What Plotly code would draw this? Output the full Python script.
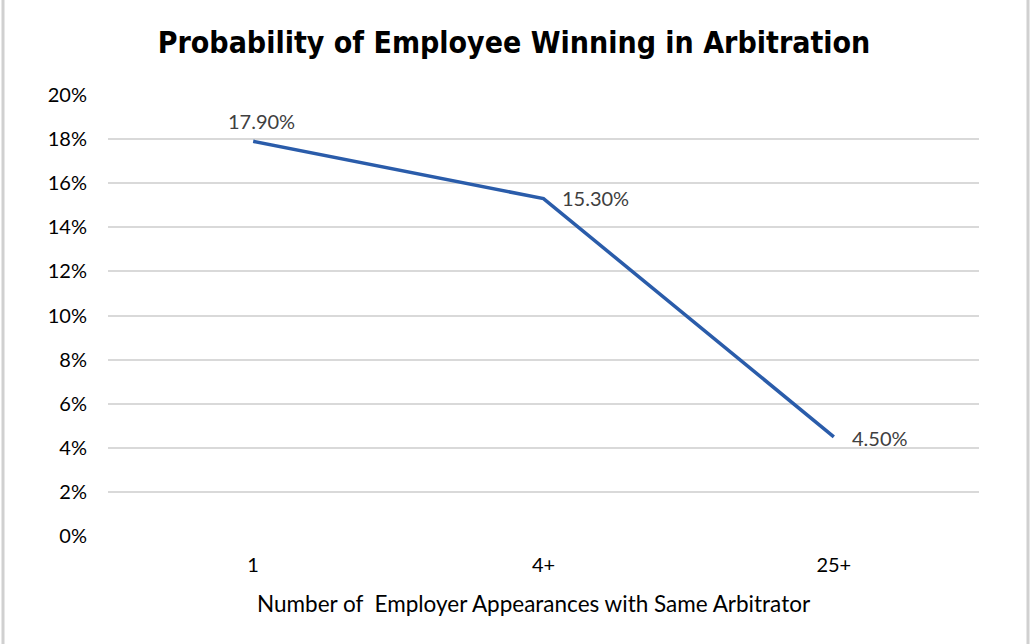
import plotly.graph_objects as go

categories = ["1", "4+", "25+"]
values = [17.9, 15.3, 4.5]
labels = ["17.90%", "15.30%", "4.50%"]
y_ticks = [0, 2, 4, 6, 8, 10, 12, 14, 16, 18, 20]
y_tick_labels = [f"{v}%" for v in y_ticks]
x_title = "Number of  Employer Appearances with Same Arbitrator"

font_family = "Lato, Open Sans, sans-serif"

fig = go.Figure()
fig.add_trace(go.Scatter(
    x=categories, y=values, mode="lines",
    line=dict(color="#2A5CAA", width=3.5),
    cliponaxis=False, showlegend=False, hoverinfo="skip",
))
label_styles = [
    dict(xanchor="center", xshift=8, yshift=20),
    dict(xanchor="left", xshift=16, yshift=1),
    dict(xanchor="left", xshift=16, yshift=-1),
]
for i, (v, t, s) in enumerate(zip(values, labels, label_styles)):
    fig.add_annotation(x=i, y=v, text=t, showarrow=False, yanchor="middle",
                       font=dict(family=font_family, size=20, color="#404040"), **s)

fig.add_annotation(x=(534 - 108) / 871, y=(536 - 603) / 441, xref="paper", yref="paper",
                   text=x_title, showarrow=False, xanchor="center", yanchor="middle",
                   font=dict(family=font_family, size=22.5, color="black"))

fig.update_layout(
    width=1030, height=644,
    margin=dict(l=108, r=51, t=95, b=108),
    paper_bgcolor="white", plot_bgcolor="white",
    title=dict(text="<b>Probability of Employee Winning in Arbitration</b>",
               x=514 / 1030, xanchor="center", y=1 - 42 / 644, yanchor="middle",
               font=dict(family="DejaVu Sans Condensed, DejaVu Sans", size=30, color="black")),
    xaxis=dict(type="category", showgrid=False, zeroline=False, showline=False,
               ticks="", ticklabelstandoff=15,
               tickfont=dict(family=font_family, size=20, color="black"),
               range=[-0.5, 2.5]),
    yaxis=dict(range=[0, 20], tickvals=y_ticks, ticktext=y_tick_labels,
               showgrid=True, gridcolor="#D9D9D9", gridwidth=1.5, zeroline=False,
               showline=False, ticks="", ticklabelstandoff=20,
               tickfont=dict(family=font_family, size=20, color="black")),
    shapes=[
        dict(type="line", xref="paper", yref="paper", x0=-105/871, x1=-105/871, y0=-1.3, y1=2,
             line=dict(color="#D0D0D0", width=3)),
        dict(type="line", xref="paper", yref="paper", x0=1 + 49/871, x1=1 + 49/871, y0=-1.3, y1=2,
             line=dict(color="#D0D0D0", width=3)),
    ],
)
fig.write_html("out.html", config={"displayModeBar": False},
               post_script="document.body.style.margin='0';")
